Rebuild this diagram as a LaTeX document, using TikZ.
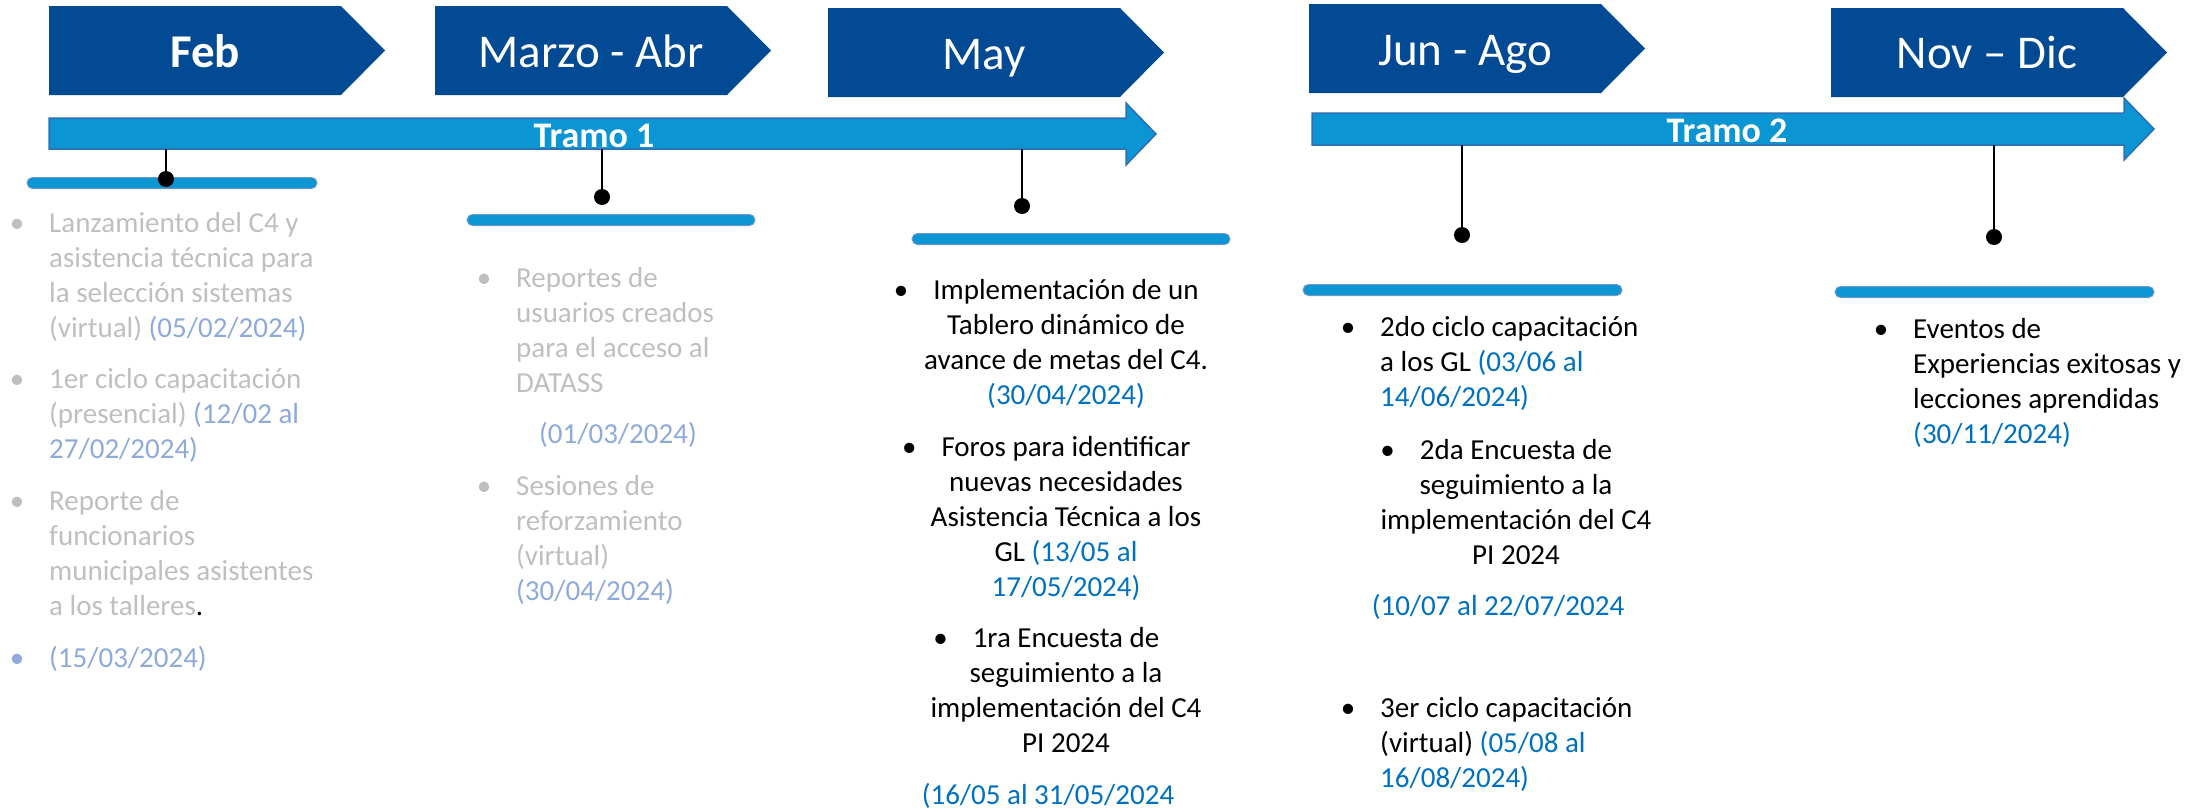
\documentclass[tikz,border=0pt]{standalone}
\usepackage{fontspec}
\setmainfont{Carlito}
\definecolor{chevc}{RGB}{2,74,148}
\definecolor{tramof}{RGB}{11,150,211}
\definecolor{tramod}{RGB}{46,110,180}
\definecolor{sbard}{RGB}{110,150,205}
\definecolor{grayt}{RGB}{191,191,191}
\definecolor{lblue}{RGB}{142,170,219}
\definecolor{dblue}{RGB}{0,112,192}
\newcommand{\bodyf}{\fontsize{29}{35}\selectfont}
\newcommand{\chevf}{\fontsize{47}{56}\selectfont}
\newcommand{\tramof}{\fontsize{36}{43}\selectfont\bfseries}
\newcommand{\mychev}[2]{\fill[chevc] (#1,#2) -- ++(292,0) -- ++(44,44.5) -- ++(-44,44.5) -- ++(-292,0) -- cycle;}
\tikzset{
  tl/.style={inner sep=0, anchor=base west, font=\bodyf},
  tc/.style={inner sep=0, anchor=base, font=\bodyf},
  bul/.style={inner sep=0, anchor=base, font=\bodyf},
  gr/.style={text=grayt},
  chevtxt/.style={inner sep=0, anchor=base, font=\chevf, text=white},
  tramotxt/.style={inner sep=0, anchor=base, font=\tramof, text=white},
  tramo/.style={fill=tramof, draw=tramod, line width=1.5pt, line join=miter},
  sbar/.style={rectangle, rounded corners=5.5pt, fill=tramof, draw=sbard, line width=1pt, minimum height=11pt, inner sep=0},
  dot/.style={circle, fill=black, inner sep=0, minimum size=16pt},
  conn/.style={draw=black, line width=2.5pt}
}
\begin{document}
\begin{tikzpicture}[x=1pt,y=-1pt]
\useasboundingbox (0,0) rectangle (2195,809);

% chevrons
\mychev{49}{6}
\mychev{435}{6}
\mychev{828}{8}
\mychev{1309}{4}
\mychev{1831}{8}
\node[chevtxt] (cfeb) at (205,67) {\textbf{Feb}};
\node[chevtxt] (cmar) at (591,67) {Marzo - Abr};
\node[chevtxt] (cmay) at (984,69) {May};
\node[chevtxt] (cjun) at (1465,65) {Jun - Ago};
\node[chevtxt] (cnov) at (1987,68) {Nov -- Dic};

% tramo arrows
\path[tramo] (49,118) -- (1126,118) -- (1126,103) -- (1156,134) -- (1126,165) -- (1126,149) -- (49,149) -- cycle;
\path[tramo] (1312,113) -- (2124,113) -- (2124,98) -- (2154,129) -- (2124,160) -- (2124,145) -- (1312,145) -- cycle;
\node[tramotxt] (t1) at (594,147) {Tramo 1};
\node[tramotxt] (t2) at (1727,142) {Tramo 2};

% small bars
\node[sbar, minimum width=290pt] (b1) at (172,183) {};
\node[sbar, minimum width=288pt] (b2) at (611,220) {};
\node[sbar, minimum width=318pt] (b3) at (1071,239) {};
\node[sbar, minimum width=319pt] (b4) at (1462.5,290) {};
\node[sbar, minimum width=319pt] (b5) at (1994.5,292) {};

% connectors
\coordinate (a1) at (166,149);
\coordinate (a2) at (602,149);
\coordinate (a3) at (1022,149);
\coordinate (a4) at (1462,145);
\coordinate (a5) at (1994,145);
\node[dot] (d1) at (166,179) {};
\node[dot] (d2) at (602,197) {};
\node[dot] (d3) at (1022,206) {};
\node[dot] (d4) at (1462,235) {};
\node[dot] (d5) at (1994,237) {};
\draw[conn] (a1) -- (d1);
\draw[conn] (a2) -- (d2);
\draw[conn] (a3) -- (d3);
\draw[conn] (a4) -- (d4);
\draw[conn] (a5) -- (d5);

% Feb block
\node[tl,gr] (f1) at (49,232) {Lanzamiento del C4 y};
\node[tl,gr] (f2) at (49,267) {asistencia técnica para};
\node[tl,gr] (f3) at (49,302) {la selección sistemas};
\node[tl,gr] (f4) at (49,337) {(virtual) \textcolor{lblue}{(05/02/2024)}};
\node[tl,gr] (f5) at (49,388) {1er ciclo capacitación};
\node[tl,gr] (f6) at (49,423) {(presencial) \textcolor{lblue}{(12/02 al}};
\node[tl,text=lblue] (f7) at (49,458) {27/02/2024)};
\node[tl,gr] (f8) at (49,510) {Reporte de};
\node[tl,gr] (f9) at (49,545) {funcionarios};
\node[tl,gr] (f10) at (49,580) {municipales asistentes};
\node[tl,gr] (f11) at (49,615) {a los talleres\textcolor{black}{.}};
\node[tl,text=lblue] (f12) at (49,667) {(15/03/2024)};
\node[bul,gr] (fb1) at ([xshift=-32pt]f1.base west) {•};
\node[bul,gr] (fb2) at ([xshift=-32pt]f5.base west) {•};
\node[bul,gr] (fb3) at ([xshift=-32pt]f8.base west) {•};
\node[bul,text=lblue] (fb4) at ([xshift=-32pt]f12.base west) {•};

% Marzo block
\node[tl,gr] (m1) at (516,287) {Reportes de};
\node[tl,gr] (m2) at (516,322) {usuarios creados};
\node[tl,gr] (m3) at (516,357) {para el acceso al};
\node[tl,gr] (m4) at (516,392) {DATASS};
\node[tl,text=lblue] (m5) at (539,443) {(01/03/2024)};
\node[tl,gr] (m6) at (516,495) {Sesiones de};
\node[tl,gr] (m7) at (516,530) {reforzamiento};
\node[tl,gr] (m8) at (516,565) {(virtual)};
\node[tl,text=lblue] (m9) at (516,600) {(30/04/2024)};
\node[bul,gr] (mb1) at ([xshift=-32pt]m1.base west) {•};
\node[bul,gr] (mb2) at ([xshift=-32pt]m6.base west) {•};

% May block
\node[tc] (y1) at (1066,299) {Implementación de un};
\node[tc] (y2) at (1066,334) {Tablero dinámico de};
\node[tc] (y3) at (1066,369) {avance de metas del C4.};
\node[tc,text=dblue] (y4) at (1066,404) {(30/04/2024)};
\node[tc] (y5) at (1066,456) {Foros para identificar};
\node[tc] (y6) at (1066,491) {nuevas necesidades};
\node[tc] (y7) at (1066,526) {Asistencia Técnica a los};
\node[tc] (y8) at (1066,561) {GL \textcolor{dblue}{(13/05 al}};
\node[tc,text=dblue] (y9) at (1066,596) {17/05/2024)};
\node[tc] (y10) at (1066,647) {1ra Encuesta de};
\node[tc] (y11) at (1066,682) {seguimiento a la};
\node[tc] (y12) at (1066,717) {implementación del C4};
\node[tc] (y13) at (1066,752) {PI 2024};
\node[tc,text=dblue] (y14) at (1048,804) {(16/05 al 31/05/2024};
\node[bul] (yb1) at ([xshift=-32pt]y1.base west) {•};
\node[bul] (yb2) at ([xshift=-32pt]y5.base west) {•};
\node[bul] (yb3) at ([xshift=-32pt]y10.base west) {•};

% Jun block
\node[tl] (j1) at (1380,336) {2do ciclo capacitación};
\node[tl] (j2) at (1380,371) {a los GL \textcolor{dblue}{(03/06 al}};
\node[tl,text=dblue] (j3) at (1380,406) {14/06/2024)};
\node[tc] (j4) at (1516,459) {2da Encuesta de};
\node[tc] (j5) at (1516,494) {seguimiento a la};
\node[tc] (j6) at (1516,529) {implementación del C4};
\node[tc] (j7) at (1516,564) {PI 2024};
\node[tc,text=dblue] (j8) at (1498,615) {(10/07 al 22/07/2024};
\node[tl] (j9) at (1380,717) {3er ciclo capacitación};
\node[tl] (j10) at (1380,752) {(virtual) \textcolor{dblue}{(05/08 al}};
\node[tl,text=dblue] (j11) at (1380,787) {16/08/2024)};
\node[bul] (jb1) at ([xshift=-32pt]j1.base west) {•};
\node[bul] (jb2) at ([xshift=-32pt]j4.base west) {•};
\node[bul] (jb3) at ([xshift=-32pt]j9.base west) {•};

% Nov block
\node[tl] (n1) at (1913,338) {Eventos de};
\node[tl] (n2) at (1913,373) {Experiencias exitosas y};
\node[tl] (n3) at (1913,408) {lecciones aprendidas};
\node[tl,text=dblue] (n4) at (1913,443) {(30/11/2024)};
\node[bul] (nb1) at ([xshift=-32pt]n1.base west) {•};
\end{tikzpicture}
\end{document}
